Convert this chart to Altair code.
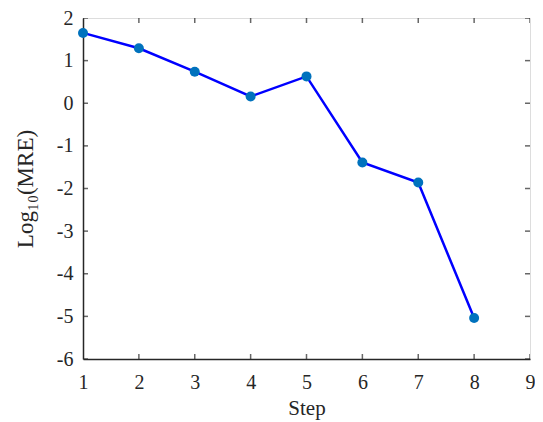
import altair as alt
import pandas as pd

steps = [1, 2, 3, 4, 5, 6, 7, 8]
log_mre = [1.65, 1.29, 0.74, 0.16, 0.63, -1.39, -1.86, -5.04]
x_ticks = [1, 2, 3, 4, 5, 6, 7, 8, 9]
y_ticks = [-6, -5, -4, -3, -2, -1, 0, 1, 2]

W, H = 447, 341
FONT = "Liberation Serif"
AX = "#262626"

df = pd.DataFrame({"step": steps, "v": log_mre})
tx = pd.DataFrame({"t": x_ticks})
ty = pd.DataFrame({"t": y_ticks})

xs = alt.Scale(domain=[1, 9], nice=False)
ys = alt.Scale(domain=[-6, 2], nice=False)

xaxis = alt.Axis(values=x_ticks, tickSize=0, labelPadding=13, title="Step",
                 titlePadding=5, labelFont=FONT, titleFont=FONT, labelFontSize=20,
                 titleFontSize=21, titleFontWeight="normal", labelColor=AX, titleColor=AX,
                 domainColor=AX, domainWidth=1.5, grid=False, labelFlush=False,
                 labelExpr="toString(datum.value)")
yaxis = alt.Axis(values=y_ticks, tickSize=0, labelPadding=10, title="Log₁₀(MRE)",
                 titlePadding=19, labelFont=FONT, titleFont=FONT, labelFontSize=20,
                 titleFontSize=23, titleFontWeight="normal", labelColor=AX, titleColor=AX,
                 domainColor=AX, domainWidth=1.5, grid=False, labelFlush=False,
                 labelExpr="toString(datum.value)")

line = alt.Chart(df).mark_line(color="#0000FF", strokeWidth=2.5).encode(
    x=alt.X("step:Q", scale=xs, axis=xaxis),
    y=alt.Y("v:Q", scale=ys, axis=yaxis),
)
pts = alt.Chart(df).mark_point(filled=True, color="#0072BD", opacity=1, size=100).encode(
    x=alt.X("step:Q", scale=xs),
    y=alt.Y("v:Q", scale=ys),
)

def xt(yv):
    return alt.Chart(tx).mark_tick(clip=True, size=10, thickness=1.5, color=AX).encode(
        x=alt.X("t:Q", scale=xs), y=alt.value(yv))

def yt(xv):
    return alt.Chart(ty).mark_tick(clip=True, size=10, thickness=1.5, color=AX).encode(
        y=alt.Y("t:Q", scale=ys), x=alt.value(xv))

chart = alt.layer(xt(H), xt(0), yt(0), yt(W), line, pts).properties(
    width=W, height=H,
    autosize=alt.AutoSizeParams(type="none"),
    padding={"left": 75, "top": 10, "right": 5, "bottom": 62},
).configure_view(stroke=AX, strokeWidth=1.5).configure(background="white")

chart.save("out.html", embed_options={"renderer": "svg", "actions": False})
